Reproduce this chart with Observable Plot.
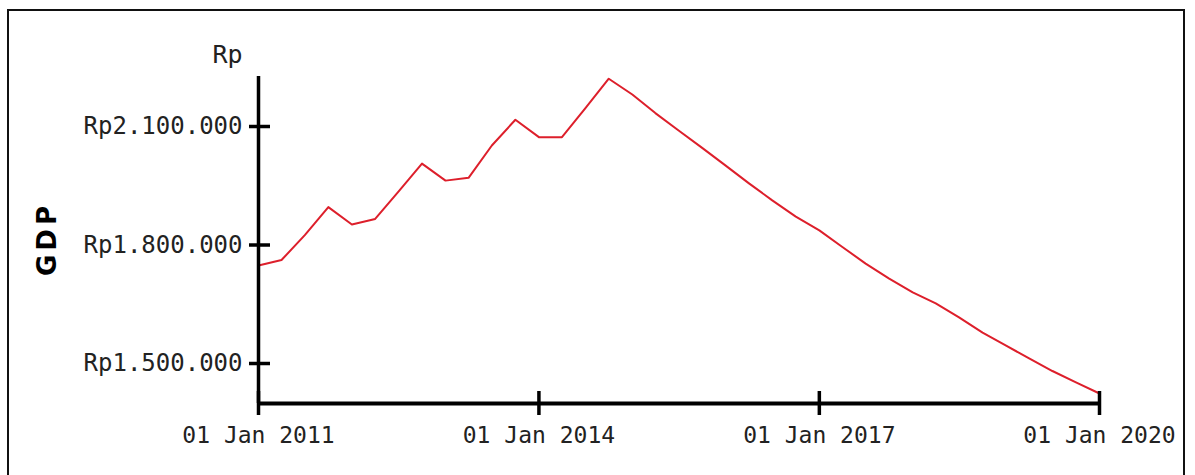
<!DOCTYPE html>
<html>
<head>
<meta charset="utf-8">
<script src="https://cdn.jsdelivr.net/npm/d3@7"></script>
<script src="https://cdn.jsdelivr.net/npm/@observablehq/plot@0.6"></script>
<style>
  html, body { margin: 0; padding: 0; background: #fff; overflow: hidden; }
  #wrap { position: relative; width: 1195px; height: 475px; overflow: hidden; }
  #border { position: absolute; left: 7px; top: 9px; width: 1178px; height: 500px; border: 2px solid #111; box-sizing: border-box; }
  #chart { position: absolute; left: 0; top: 0; }
  #side { position: absolute; left: 47px; top: 241px; transform: translate(-50%, -50%) rotate(-90deg);
          font-family: 'DejaVu Sans', Verdana, sans-serif; font-weight: bold; font-size: 26px;
          letter-spacing: 4px; color: #000; white-space: nowrap; line-height: 1; padding-left: 4px; }
</style>
</head>
<body>
<div id="wrap"><div id="border"></div><div id="chart"></div><div id="side"></div></div>
<script>
// Quarterly dates (first day of each quarter)
const quarters = [
  "2011-01-01","2011-04-01","2011-07-01","2011-10-01",
  "2012-01-01","2012-04-01","2012-07-01","2012-10-01",
  "2013-01-01","2013-04-01","2013-07-01","2013-10-01",
  "2014-01-01","2014-04-01","2014-07-01","2014-10-01",
  "2015-01-01","2015-04-01","2015-07-01","2015-10-01",
  "2016-01-01","2016-04-01","2016-07-01","2016-10-01",
  "2017-01-01","2017-04-01","2017-07-01","2017-10-01",
  "2018-01-01","2018-04-01","2018-07-01","2018-10-01",
  "2019-01-01","2019-04-01","2019-07-01","2019-10-01",
  "2020-01-01"
];
// GDP values (Rp)
const gdp = [
  1748000, 1762000, 1825000, 1896000,
  1852000, 1866000, 1935000, 2006000,
  1963000, 1970000, 2052000, 2117000,
  2073000, 2073000, 2146000, 2221000,
  2181000, 2134000, 2090000, 2046000,
  2001000, 1956000, 1913000, 1872000,
  1837000, 1795000, 1753000, 1715000,
  1680000, 1652000, 1617000, 1578000,
  1545000, 1513000, 1481000, 1452000,
  1424000
];
const yTicks = [1500000, 1800000, 2100000];
const xTickLabels = ["2011-01-01", "2014-01-01", "2017-01-01", "2020-01-01"];
const yDomain = [1398750, 2226600];
const xDomain = ["2011-01-01", "2020-01-01"];
const yAxisTitle = "Rp";
const sideTitle = "GDP";

const data = quarters.map((q, i) => ({date: new Date(q), value: gdp[i]}));
const xTicks = xTickLabels.map(d => new Date(d));
const fmtRp = d => "Rp" + d3.format(",")(d).replace(/,/g, ".");
const fmtDate = d3.utcFormat("%d %b %Y");

const font = "'DejaVu Sans Mono', monospace";

const chart = Plot.plot({
  width: 1195,
  height: 475,
  marginLeft: 258,
  marginRight: 96,
  marginTop: 76,
  marginBottom: 72,
  style: {fontFamily: font, background: "transparent", color: "#222"},
  x: {type: "utc", domain: xDomain.map(d => new Date(d))},
  y: {domain: yDomain},
  marks: [
    Plot.line(data, {x: "date", y: "value", stroke: "#dd1f2b", strokeWidth: 2}),
    // axis lines
    Plot.ruleY([yDomain[0]], {stroke: "#000", strokeWidth: 4}),
    Plot.ruleX([new Date(xDomain[0])], {stroke: "#000", strokeWidth: 3.5}),
    // y axis
    Plot.axisY({
      ticks: yTicks, tickFormat: fmtRp, tickSize: 9, tickPadding: 7,
      strokeWidth: 3.5, stroke: "#000", fontSize: 24, label: null, fill: "#222"
    }),
    Plot.tickY(yTicks, {y: d => d, stroke: "#000", strokeWidth: 3.5, insetRight: 829}),
    // x axis
    Plot.axisX({
      ticks: xTicks, tickFormat: fmtDate, tickSize: 12, tickPadding: 11,
      strokeWidth: 3.5, stroke: "#000", fontSize: 23, label: null, fill: "#222"
    }),
    Plot.tickX(xTicks, {x: d => d, stroke: "#000", strokeWidth: 3.5, insetTop: 315}),
    // y axis title
    Plot.text([yAxisTitle], {frameAnchor: "top-left", dx: -16, dy: -14, textAnchor: "end", lineAnchor: "bottom", fontSize: 25, fill: "#222", fontFamily: font})
  ]
});
document.getElementById("chart").appendChild(chart);
document.getElementById("side").textContent = sideTitle;
</script>
</body>
</html>
